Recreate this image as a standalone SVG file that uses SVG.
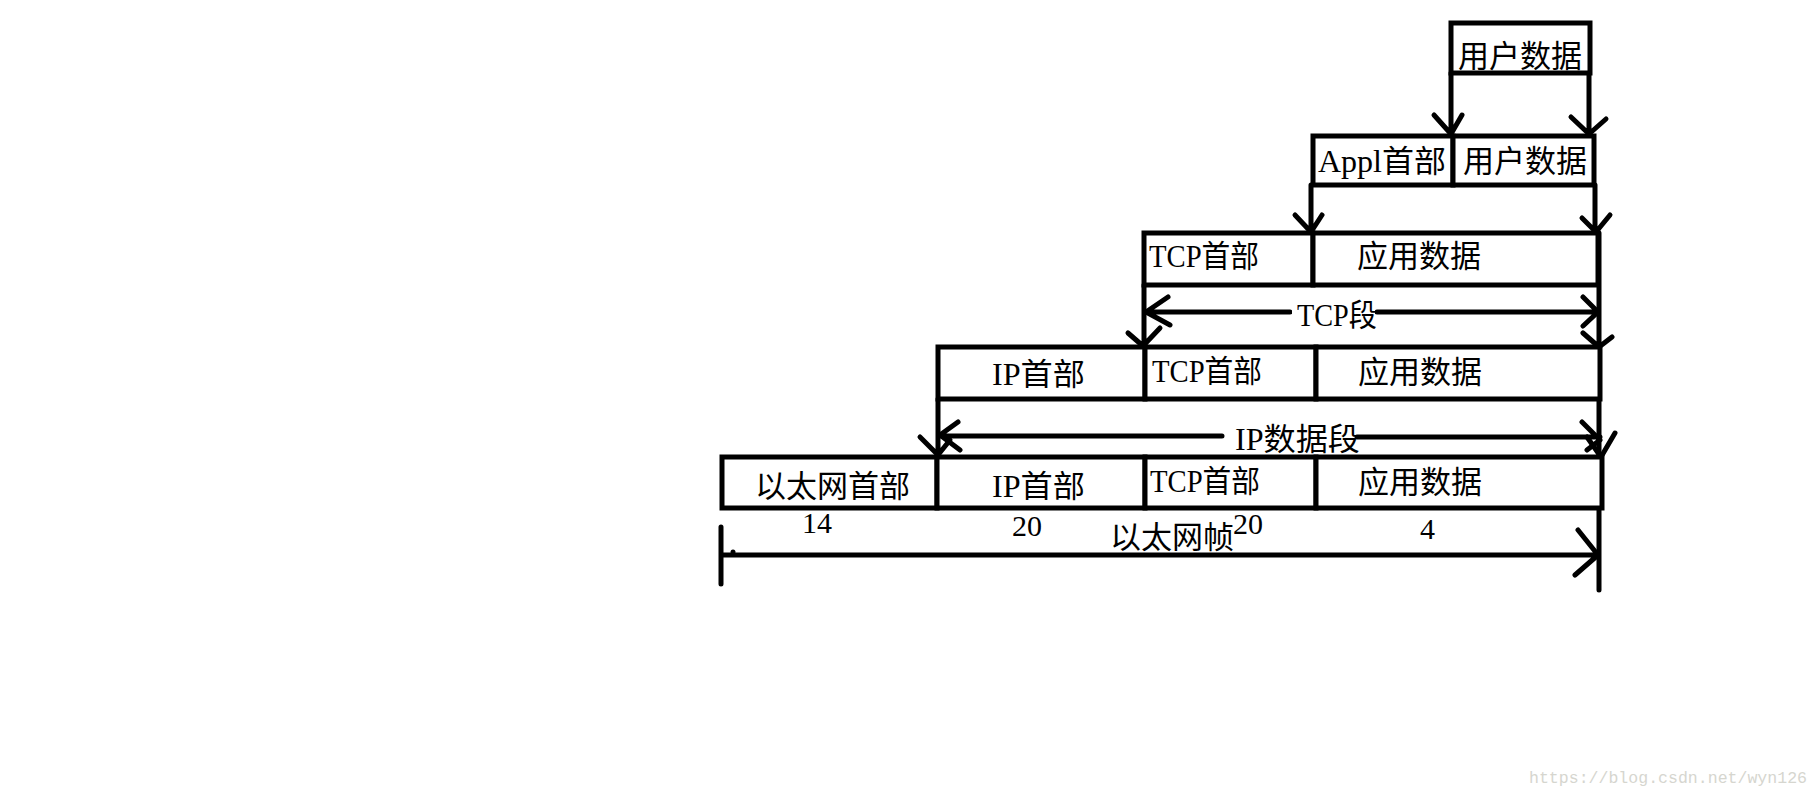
<svg xmlns="http://www.w3.org/2000/svg" width="1820" height="797" viewBox="0 0 1820 797">
<style>
.box{fill:#fff;stroke:#000;stroke-width:5}
.ln{fill:none;stroke:#000;stroke-width:5;stroke-linecap:round;stroke-linejoin:round}
.t{font-family:"Liberation Serif","Noto Sans CJK SC",serif;font-size:31px;fill:#000}
.n{font-family:"Liberation Serif",serif;font-size:30px;fill:#000}
.wm{font-family:"Liberation Mono","Noto Sans CJK SC",monospace;font-size:17px;fill:#d6d6cf}
</style>
<rect width="1820" height="797" fill="#fff"/>
<g id="connectors">
<!-- row1 to row2 -->
<path class="ln" d="M1451 73V134M1434 115L1451 134L1462 115"/>
<path class="ln" d="M1589 73V134M1571 117L1589 134L1606 119"/>
<!-- row2 to row3 -->
<path class="ln" d="M1311 185V232M1295 215L1311 232L1322 215"/>
<path class="ln" d="M1595 185V232M1582 218L1596 232L1610 215"/>
<!-- row3 to row4 -->
<path class="ln" d="M1144 285V346M1128 333L1143 346L1160 328"/>
<path class="ln" d="M1599 233V590M1583 333L1599 347L1612 337"/>
<!-- TCP segment -->
<path class="ln" d="M1146 312H1290M1377 312H1598M1168 297L1146 312L1170 325M1583 297L1598 312L1583 326"/>
<!-- row4 to row5 -->
<path class="ln" d="M938 399V455M920 437L938 455L950 440"/>
<path class="ln" d="M1587 437L1601 457L1615 433"/>
<!-- IP datagram -->
<path class="ln" d="M940 436H1222M1357 437H1600M958 422L940 435L960 450M1582 422L1600 440L1587 450"/>
<!-- Ethernet frame -->
<path class="ln" d="M721 527V584M722 555H1598M1578 530L1598 555L1575 575"/>
<circle cx="733" cy="552" r="2.5" fill="#000"/>
</g>
<g id="row1">
<g id="user-data-1"><rect class="box" x="1451" y="23" width="139" height="50"/><text class="t" x="1458" y="67">用户数据</text></g>
</g>
<g id="row2">
<g id="appl-header"><rect class="box" x="1313" y="136" width="140" height="49"/><text class="t" x="1318" y="172" textLength="128" lengthAdjust="spacingAndGlyphs">Appl首部</text></g>
<g id="user-data-2"><rect class="box" x="1453" y="136" width="141" height="49"/><text class="t" x="1463" y="172">用户数据</text></g>
</g>
<g id="row3">
<g id="tcp-header-3"><rect class="box" x="1144" y="233" width="169" height="52"/><text class="t" x="1149" y="267" textLength="110" lengthAdjust="spacingAndGlyphs">TCP首部</text></g>
<g id="app-data-3"><rect class="box" x="1313" y="233" width="285" height="52"/><text class="t" x="1357" y="267">应用数据</text></g>
</g>
<g id="tcp-seg-label"><rect x="1292" y="298" width="83" height="30" fill="#fff"/><text class="t" x="1297" y="326" textLength="80" lengthAdjust="spacingAndGlyphs">TCP段</text></g>
<g id="row4">
<g id="ip-header-4"><rect class="box" x="938" y="347" width="207" height="52"/><text class="t" x="992" y="385" textLength="93" lengthAdjust="spacingAndGlyphs">IP首部</text></g>
<g id="tcp-header-4"><rect class="box" x="1145" y="347" width="171" height="52"/><text class="t" x="1152" y="382" textLength="110" lengthAdjust="spacingAndGlyphs">TCP首部</text></g>
<g id="app-data-4"><rect class="box" x="1316" y="347" width="284" height="52"/><text class="t" x="1358" y="383">应用数据</text></g>
</g>
<g id="ip-seg-label"><text class="t" x="1235" y="450" textLength="125" lengthAdjust="spacingAndGlyphs">IP数据段</text></g>
<g id="row5">
<g id="eth-header"><rect class="box" x="722" y="457" width="215" height="51"/><text class="t" x="755" y="497">以太网首部</text></g>
<g id="ip-header-5"><rect class="box" x="937" y="457" width="208" height="51"/><text class="t" x="992" y="497" textLength="93" lengthAdjust="spacingAndGlyphs">IP首部</text></g>
<g id="tcp-header-5"><rect class="box" x="1145" y="457" width="171" height="51"/><text class="t" x="1150" y="492" textLength="110" lengthAdjust="spacingAndGlyphs">TCP首部</text></g>
<g id="app-data-5"><rect class="box" x="1316" y="457" width="286" height="51"/><text class="t" x="1358" y="493">应用数据</text></g>
</g>
<g id="sizes">
<text class="n" x="802" y="533">14</text>
<text class="n" x="1012" y="536">20</text>
<text class="n" x="1233" y="534">20</text>
<text class="n" x="1420" y="539">4</text>
</g>
<g id="eth-frame-label"><text class="t" x="1110" y="548">以太网帧</text></g>
<text class="wm" x="1529" y="783" textLength="278" lengthAdjust="spacingAndGlyphs">https://blog.csdn.net/wyn126</text>
</svg>
